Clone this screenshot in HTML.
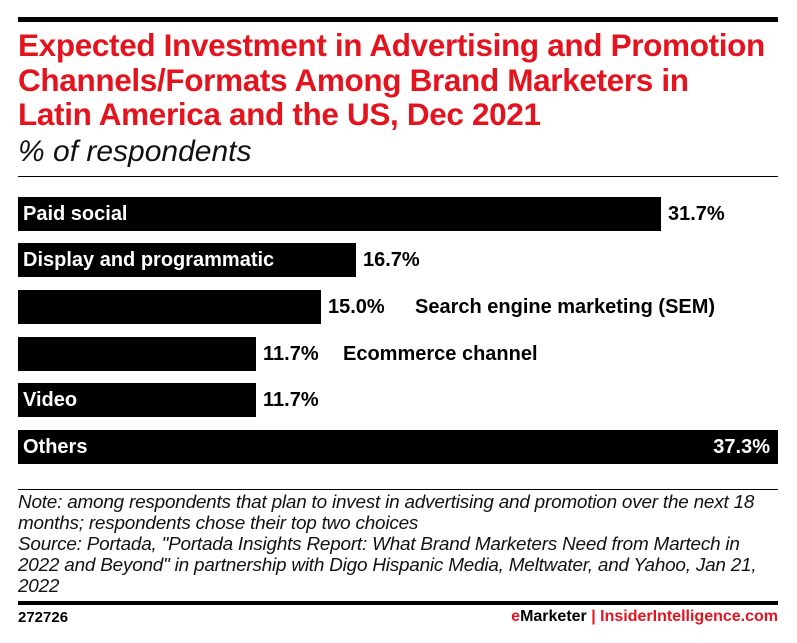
<!DOCTYPE html>
<html><head><meta charset="utf-8"><style>
body{margin:0;background:#fff;width:797px;height:643px;position:relative;overflow:hidden;font-family:"Liberation Sans",sans-serif;}
.a{position:absolute;}
.t{color:#e4141f;font-weight:bold;font-size:31.5px;letter-spacing:-0.35px;left:18px;white-space:nowrap;line-height:34px;}
.bar{position:absolute;left:18px;background:#000;height:34px;}
.lb{position:absolute;font-weight:bold;font-size:20px;line-height:34px;white-space:nowrap;}
.n{font-style:italic;font-size:18.9px;color:#111;left:18px;white-space:nowrap;line-height:21px;letter-spacing:-0.2px;}
</style></head><body>
<div class="a" style="left:18px;top:17px;width:760px;height:5px;background:#000"></div>
<div class="a t" style="top:28px">Expected Investment in Advertising and Promotion</div>
<div class="a t" style="top:63px">Channels/Formats Among Brand Marketers in</div>
<div class="a t" style="top:97px">Latin America and the US, Dec 2021</div>
<div class="a" style="left:18px;top:135px;font-style:italic;font-size:30px;line-height:34px;color:#111">% of respondents</div>
<div class="a" style="left:18px;top:176px;width:760px;height:1px;background:#000"></div>

<div class="bar" style="top:197px;width:643px"></div>
<div class="lb" style="top:197px;left:23px;color:#fff">Paid social</div>
<div class="lb" style="top:197px;left:668px">31.7%</div>

<div class="bar" style="top:243px;width:338px"></div>
<div class="lb" style="top:243px;left:23px;color:#fff">Display and programmatic</div>
<div class="lb" style="top:243px;left:363px">16.7%</div>

<div class="bar" style="top:290px;width:303px"></div>
<div class="lb" style="top:290px;left:328px">15.0%</div>
<div class="lb" style="top:290px;left:415px">Search engine marketing (SEM)</div>

<div class="bar" style="top:337px;width:238px"></div>
<div class="lb" style="top:337px;left:263px">11.7%</div>
<div class="lb" style="top:337px;left:343px">Ecommerce channel</div>

<div class="bar" style="top:383px;width:238px"></div>
<div class="lb" style="top:383px;left:23px;color:#fff">Video</div>
<div class="lb" style="top:383px;left:263px">11.7%</div>

<div class="bar" style="top:430px;width:760px"></div>
<div class="lb" style="top:430px;left:23px;color:#fff">Others</div>
<div class="lb" style="top:430px;right:27px;color:#fff">37.3%</div>

<div class="a" style="left:18px;top:489px;width:760px;height:1px;background:#000"></div>
<div class="a n" style="top:492px">Note: among respondents that plan to invest in advertising and promotion over the next 18</div>
<div class="a n" style="top:513px">months; respondents chose their top two choices</div>
<div class="a n" style="top:534px">Source: Portada, "Portada Insights Report: What Brand Marketers Need from Martech in</div>
<div class="a n" style="top:555px">2022 and Beyond" in partnership with Digo Hispanic Media, Meltwater, and Yahoo, Jan 21,</div>
<div class="a n" style="top:576px">2022</div>
<div class="a" style="left:18px;top:601px;width:760px;height:4px;background:#000"></div>
<div class="a" style="left:18px;top:609px;font-weight:bold;font-size:15px">272726</div>
<div class="a" style="right:19px;top:608px;font-weight:bold;font-size:16px;white-space:nowrap"><span style="color:#e4141f">e</span>Marketer <span style="color:#e4141f">|</span> <span style="color:#e4141f">InsiderIntelligence.com</span></div>
</body></html>
